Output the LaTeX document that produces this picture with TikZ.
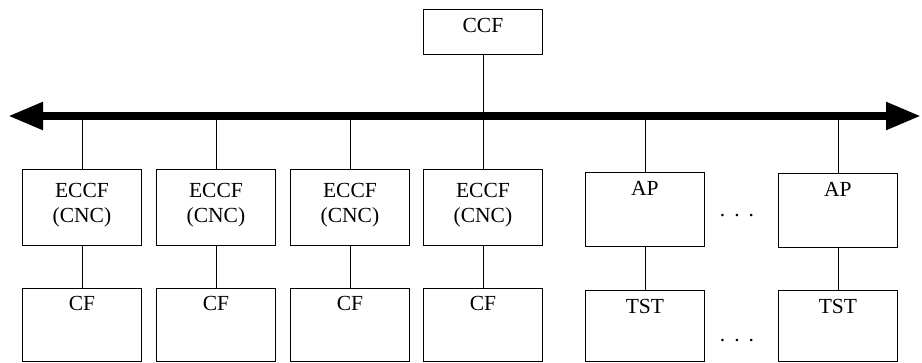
\documentclass[tikz,border=0pt]{standalone}
\usepackage{fontspec}
\setmainfont{Liberation Serif}
\usetikzlibrary{arrows.meta}
\begin{document}
\begin{tikzpicture}[x=1pt,y=-1pt,
  font=\fontsize{21.5}{25}\selectfont,
  unit/.style={draw, line width=0.9pt, inner sep=0pt, minimum width=119pt,
    align=center, anchor=north west},
  % last baseline #1 below the top edge, box height #2
  tall/.style 2 args={text height=#1pt, text depth={#2pt-#1pt}},
  link/.style={line width=0.9pt},
  bus/.style={line width=8pt, {Triangle[length=35pt,width=26pt]}-{Triangle[length=35pt,width=26pt]}},
  dots/.style={anchor=base, inner sep=0pt}]
\useasboundingbox (0,0) rectangle (922,362);

% controller on top
\node[unit, tall={23}{45}] (ccf) at (423,9) {CCF};

% edge controllers (two lines, 25pt apart)
\node[unit, tall={53}{76}] (e1) at (22,169)  {ECCF\\(CNC)};
\node[unit, tall={53}{76}] (e2) at (156,169) {ECCF\\(CNC)};
\node[unit, tall={53}{76}] (e3) at (290,169) {ECCF\\(CNC)};
\node[unit, tall={53}{76}] (e4) at (423,169) {ECCF\\(CNC)};

% access points
\node[unit, tall={23}{74}] (ap1) at (585,172) {AP};
\node[unit, tall={23}{74}] (ap2) at (778,173) {AP};

% lower row
\node[unit, tall={22}{73}] (c1) at (22,288)  {CF};
\node[unit, tall={22}{73}] (c2) at (156,288) {CF};
\node[unit, tall={22}{73}] (c3) at (290,288) {CF};
\node[unit, tall={22}{73}] (c4) at (423,288) {CF};
\node[unit, tall={23}{71}] (t1) at (585,290) {TST};
\node[unit, tall={23}{71}] (t2) at (778,290) {TST};

% ellipses between the repeated units
\node[dots] (d1) at (737,216) {.\hspace{9pt}.\hspace{9pt}.};
\node[dots] (d2) at (737,341) {.\hspace{9pt}.\hspace{9pt}.};

% backbone bus
\coordinate (busL) at (8,116);
\coordinate (busR) at (921,116);
\draw[bus] (busL) -- (busR);

% drops from the bus
\draw[link] (ccf.south) -- (e4.north);
\foreach \n in {e1,e2,e3,ap1,ap2}
  \draw[link] (\n.north |- busL) -- (\n.north);

% vertical links to the lower row
\draw[link] (e1.south) -- (c1.north);
\draw[link] (e2.south) -- (c2.north);
\draw[link] (e3.south) -- (c3.north);
\draw[link] (e4.south) -- (c4.north);
\draw[link] (ap1.south) -- (t1.north);
\draw[link] (ap2.south) -- (t2.north);
\end{tikzpicture}
\end{document}
